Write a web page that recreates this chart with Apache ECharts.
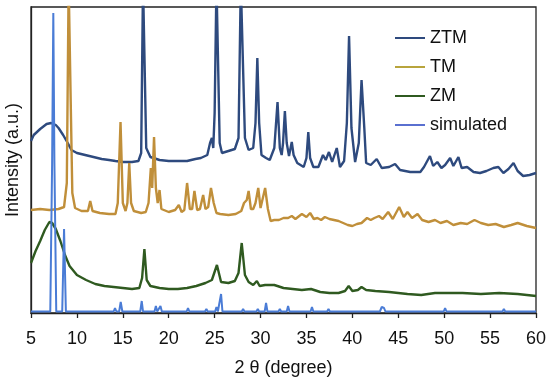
<!DOCTYPE html>
<html><head><meta charset="utf-8">
<script src="https://cdn.jsdelivr.net/npm/echarts@6/dist/echarts.min.js"></script>
<style>html,body{margin:0;padding:0;background:#fff}#c{width:550px;height:380px}</style>
</head><body><div id="c"></div>
<script>
var seriesNames = ['ZTM', 'TM', 'ZM', 'simulated'];
var xTicks = [5, 10, 15, 20, 25, 30, 35, 40, 45, 50, 55, 60];

var ztm = [[5.0,172],[5.3,178],[6.0,184],[6.7,189],[7.2,190],[7.7,188],[8.0,185],[8.5,178],[9.0,170],[9.4,163],[10.0,160],[10.9,158],[11.8,156],[12.7,154],[13.5,153],[14.2,152],[15.0,151],[16.0,151],[16.7,152],[17.0,160],[17.2,330],[17.35,330],[17.55,165],[18.0,156],[19.0,153],[20.0,152],[21.0,152],[22.0,152],[22.9,154],[23.5,155],[24.2,158],[24.5,170],[24.7,175],[24.85,165],[25.0,200],[25.2,330],[25.35,330],[25.55,170],[25.8,160],[26.5,162],[27.2,164],[27.6,175],[27.85,330],[28.05,330],[28.3,175],[28.7,163],[29.2,165],[29.45,190],[29.65,255],[29.85,190],[30.1,158],[30.6,155],[31.0,153],[31.5,165],[31.85,211],[32.1,165],[32.3,158],[32.45,170],[32.65,202],[32.85,170],[33.1,157],[33.4,171],[33.6,158],[34.0,150],[34.7,146],[35.0,155],[35.2,181],[35.4,155],[35.75,146],[36.3,146],[36.8,158],[37.1,153],[37.45,161],[37.8,151],[38.3,165],[38.65,146],[39.1,152],[39.4,190],[39.64,277],[39.9,185],[40.3,151],[40.7,170],[41.0,233],[41.3,185],[41.5,150],[42.0,148],[42.65,154],[43.2,145],[44.0,146],[44.65,149],[45.2,143],[46.3,141],[47.4,141],[47.8,146],[48.45,157],[48.8,147],[49.25,151],[49.7,145],[50.1,148],[50.65,155],[51.0,147],[51.55,156],[51.9,145],[52.5,146],[53.2,141],[53.9,140],[54.6,142],[55.35,145],[55.9,146],[56.45,140],[57.0,144],[57.55,150],[58.0,142],[58.6,137],[59.3,138],[60.0,140]];

var tm = [[5.0,103],[6.0,104],[7.0,103],[8.0,104],[8.6,106],[8.9,130],[9.1,330],[9.3,330],[9.5,120],[9.8,105],[10.5,102],[11.2,102],[11.45,112],[11.7,102],[12.5,100],[13.5,99],[14.2,99],[14.45,110],[14.75,191],[15.0,110],[15.3,102],[15.5,110],[15.7,150],[15.9,110],[16.2,102],[17.0,100],[17.5,101],[17.8,110],[18.05,145],[18.2,125],[18.4,176],[18.6,125],[18.8,110],[19.0,123],[19.2,104],[20.0,101],[20.7,103],[21.1,108],[21.4,101],[21.7,103],[22.0,130],[22.3,104],[22.55,104],[22.8,122],[23.1,103],[23.4,104],[23.75,118],[24.0,104],[24.3,106],[24.6,125],[24.9,110],[25.2,100],[25.6,99],[26.5,98],[27.3,99],[27.9,102],[28.2,110],[28.5,113],[28.7,122],[28.95,104],[29.2,104],[29.45,110],[29.75,125],[30.0,105],[30.2,105],[30.5,125],[30.8,104],[31.1,92],[31.5,93],[32.0,93],[32.5,95],[33.0,95],[33.4,97],[33.8,94],[34.5,99],[35.0,96],[35.4,100],[35.8,94],[36.2,95],[36.6,93],[37.0,96],[37.5,94],[38.0,93],[38.5,92],[39.0,90],[39.5,88],[40.0,87],[40.5,89],[41.0,90],[41.6,95],[42.0,93],[42.4,95],[42.9,97],[43.3,94],[43.9,101],[44.4,94],[45.1,106],[45.6,96],[46.0,101],[46.5,95],[47.1,99],[47.6,93],[48.3,91],[49.0,93],[49.6,90],[50.3,92],[51.0,88],[51.8,90],[52.5,89],[53.3,93],[54.0,90],[54.8,88],[55.6,89],[56.5,86],[57.3,88],[58.0,90],[59.0,87],[60.0,85]];

var zm = [[5.0,50],[5.5,62],[6.0,72],[6.5,83],[7.0,91],[7.3,90],[7.7,84],[8.2,72],[8.7,58],[9.2,47],[10.0,38],[11.0,33],[12.0,29],[13.0,27],[14.0,26],[15.0,25],[16.0,24],[16.8,25],[17.1,35],[17.35,64],[17.6,33],[18.0,27],[19.0,25],[20.0,24],[21.0,24],[22.0,25],[23.0,27],[24.0,30],[24.7,33],[25.25,48],[25.7,31],[26.5,30],[27.2,32],[27.6,40],[27.95,70],[28.3,38],[28.7,31],[29.2,28],[29.6,32],[29.9,27],[30.5,28],[31.5,28],[32.5,25],[33.5,24],[34.5,23],[35.5,24],[36.5,21],[37.5,20],[38.5,20],[39.2,22],[39.6,27],[40.0,22],[40.6,23],[41.0,26],[41.5,23],[42.5,22],[44.0,21],[45.0,20],[46.0,19],[47.5,18],[49.0,20],[50.5,20],[52.0,20],[54.0,19],[56.0,20],[58.0,19],[60.0,17]];

var simulated = [[5,1.5],[7.1,1.5],[7.3,150],[7.43,300],[7.55,150],[7.75,1.5],[8.4,1.5],[8.6,84],[8.8,1.5],[14.0,1.5],[14.15,5],[14.3,1.5],[14.6,1.5],[14.77,11],[14.95,1.5],[16.9,1.5],[17.06,12],[17.2,1.5],[18.45,1.5],[18.6,7],[18.75,1.5],[18.95,1.5],[19.1,7],[19.25,1.5],[21.95,1.5],[22.1,5],[22.25,1.5],[23.95,1.5],[24.1,4],[24.25,1.5],[25.05,1.5],[25.2,6],[25.35,1.5],[25.55,1.5],[25.7,19],[25.85,1.5],[27.95,1.5],[28.1,4],[28.25,1.5],[29.55,1.5],[29.7,4],[29.85,1.5],[30.45,1.5],[30.6,10],[30.75,1.5],[31.95,1.5],[32.1,4],[32.25,1.5],[32.85,1.5],[33.0,7],[33.15,1.5],[34.35,1.5],[34.5,3],[34.65,1.5],[35.45,1.5],[35.6,6],[35.75,1.5],[36.55,1.5],[36.7,3],[36.85,1.5],[37.25,1.5],[37.4,4],[37.55,1.5],[39.25,1.5],[39.4,3],[39.55,1.5],[40.45,1.5],[40.6,3],[40.75,1.5],[43.0,1.5],[43.2,6],[43.45,5],[43.6,1.5],[44.15,1.5],[44.3,3],[44.45,1.5],[44.85,1.5],[45,2.5],[45.15,1.5],[48.35,1.5],[48.5,2.5],[48.65,1.5],[49.95,1.5],[50.1,5],[50.25,1.5],[50.85,1.5],[51,2.5],[51.15,1.5],[51.55,1.5],[51.7,2.5],[51.85,1.5],[54.65,1.5],[54.8,2.5],[54.95,1.5],[56.35,1.5],[56.5,4],[56.65,1.5],[57.25,1.5],[57.4,2.5],[57.55,1.5],[60,1.5]];

var colors = ['#2E4A7E', '#C08F3A', '#2F5A20', '#4A7CD6'];
var legendColors = ['#2E4A7E', '#B8A43C', '#2F5A20', '#5A70D0'];
var allData = [ztm, tm, zm, simulated];
var FONT = 'Liberation Sans, Arial, sans-serif';

var chart = echarts.init(document.getElementById('c'), null, {renderer: 'canvas'});
chart.setOption({
  animation: false,
  backgroundColor: '#fff',
  grid: {left: 31, right: 14, top: 7, bottom: 67, containLabel: false, outerBoundsMode: 'none',
    show: true, borderColor: '#222', borderWidth: 1.3, backgroundColor: 'transparent'},
  legend: {
    orient: 'vertical', left: 390, top: 24, itemWidth: 30, itemHeight: 2, itemGap: 11,
    icon: 'rect',
    data: seriesNames.map(function (n, i) { return {name: n, itemStyle: {color: legendColors[i]}}; }),
    textStyle: {fontFamily: FONT, fontSize: 18, color: '#111', lineHeight: 18, padding: [0, 0, 0, 0]}
  },
  xAxis: {
    type: 'value', min: 5, max: 60, interval: 5,
    name: '2 θ (degree)', nameLocation: 'middle', nameGap: 46,
    nameTextStyle: {fontFamily: FONT, fontSize: 18, color: '#111'},
    axisLine: {show: true, lineStyle: {color: '#222', width: 1.3}},
    axisTick: {show: true, inside: false, length: 5, lineStyle: {color: '#222', width: 1.3}},
    axisLabel: {fontFamily: FONT, fontSize: 18, color: '#111', margin: 17,
      formatter: function (v) { return xTicks.indexOf(v) >= 0 ? String(v) : ''; }},
    splitLine: {show: false}
  },
  yAxis: {
    type: 'value', min: 0, max: 306,
    name: 'Intensity (a.u.)', nameLocation: 'middle', nameGap: 9,
    nameTextStyle: {fontFamily: FONT, fontSize: 18, color: '#111'},
    axisLine: {show: true, lineStyle: {color: '#222', width: 1.3}},
    axisTick: {show: false}, axisLabel: {show: false}, splitLine: {show: false}
  },
  series: seriesNames.map(function (n, i) {
    return {
      name: n, type: 'line', data: allData[i], showSymbol: false, symbol: 'none',
      clip: true, smooth: false,
      lineStyle: {color: colors[i], width: i === 3 ? 2 : 2.4},
      itemStyle: {color: colors[i]}, z: 2 + i
    };
  })
});
</script></body></html>
